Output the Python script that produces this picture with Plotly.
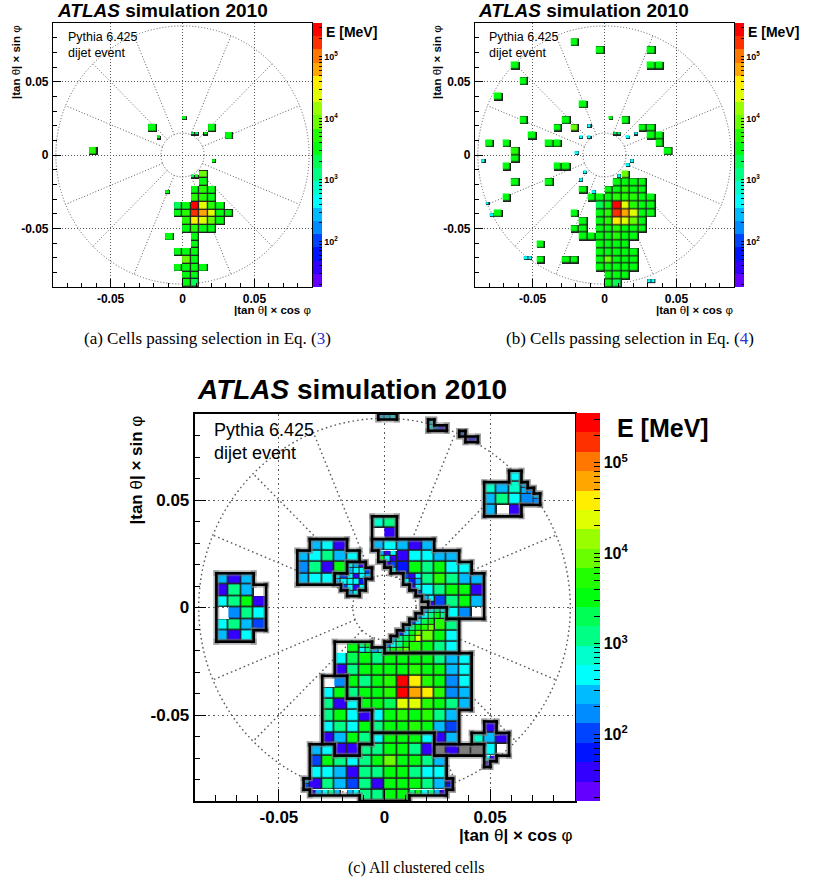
import math
import colorsys
import plotly.graph_objects as go

FIG_W, FIG_H = 832, 884
SANS = "Liberation Sans"
SERIF = "Liberation Serif"

# ---------------------------------------------------------------- geometry
DX, DY = 0.0059, 0.0053          # full cell pitch in |tan(theta)| x / y
AX_RANGE = 0.09
R_INNER, R_OUTER = 0.015, 0.088  # eta boundaries drawn as dotted circles

# ---------------------------------------------------------------- data
# colour-band code of a cell -> cell energy [MeV]
BAND_KEYS = "0123456789abcdefghij"
BAND_MEV = [23, 38, 63, 103, 168, 276, 452, 741, 1210, 1990,
            3260, 5340, 8750, 14300, 23500, 38500, 63000, 103000, 170000, 278000]
Z_MIN, Z_MAX = 1.26, 5.55        # log10(E/MeV) range of the palette axis

# full-size cells: (row j, first column i, band codes); '.' = no cell
A_FULL = [
    (3, -4, "a"), (3, 3, "a"), (2, 5, "a"), (0, -11, "b"),
    (-3, 2, "c"), (-4, 2, "a"), (-5, 1, "aba"), (-6, 1, "bba"),
    (-7, -1, "9ajeba"), (-8, -1, "abigeaa"), (-9, 0, "bfeca"), (-10, 0, "abaa"),
    (-11, -2, "a"), (-11, 1, "a"), (-12, 1, "a"), (-13, -1, "aaa"), (-14, 0, "ca"),
    (-15, -1, "aaaa"), (-16, 0, "aa"), (-17, 0, "a9"),
]
# half-size cells: (half-row k, first half-column m, band codes)
A_HALF = [(9, 0, "a"), (5, 2, "99"), (5, 5, "a"), (4, -6, "a"), (-2, 7, "a"),
          (-6, 2, "9a"), (-10, -4, "a")]

B_FULL = [
    (14, -4, "a"), (13, -1, "a"), (13, 5, "a"), (11, -11, "a"), (11, 5, "aa"),
    (9, -10, "a"), (7, -13, "a"), (6, -3, "a"),
    (4, -10, "a"), (4, -5, "a"), (4, 2, "a"),
    (3, -6, "a.c"), (3, 4, "aa"),
    (2, -9, "a"), (2, 5, "aa"),
    (1, -14, "a.a"), (1, -7, "aa"), (1, 6, "a"),
    (0, -11, "b"), (0, 7, "a"),
    (-1, -11, "a"),
    (-2, -12, "a"), (-2, -6, "aa"),
    (-3, 2, "c"),
    (-4, -11, "a"), (-4, -7, "a"), (-4, 1, "aaaa"),
    (-5, -3, "a"), (-5, 0, "aabaa"),
    (-6, -12, "a"), (-6, -2, "aaabbbaa"),
    (-7, -1, "9ajebaa"),
    (-8, -13, "a"), (-8, -4, "a"), (-8, -1, "abigeaa"),
    (-9, -3, "a.abfeca"),
    (-10, -4, "aa.aabaaa"),
    (-11, -3, "aaaabaa"),
    (-12, -8, "a"), (-12, -1, "aaaa"),
    (-13, -1, "aaaaa"),
    (-14, -8, "a"), (-14, -5, "aa"), (-14, -1, "acaaa"),
    (-15, -1, "aaaaa"),
    (-16, 0, "aaa"),
    (-17, 0, "a9"),
]
B_HALF = [(-2, -29, "6"), (-13, -28, "6"), (-16, -27, "6"), (-27, -19, "66"),
          (7, -4, "6"), (4, -6, "6.6"), (0, -7, "6"), (-5, -5, "6"), (-7, -6, "6"),
          (-10, -3, "6"), (-6, 3, "6"), (-3, 5, "6"), (-2, 6, "6"), (4, 5, "6"),
          (5, 7, "6"), (9, 1, "a"), (5, 2, "99"), (-33, 10, "66")]

# clustered cells: (row j, first column i, band codes, cluster); '-' = cell
# in a cluster with negative energy, '#' = cell shown in grey
C_FULL = [
    (11, 10, "6", "R"), (10, 8, "757", "R"), (9, 8, "5864", "R"), (8, 8, "5-1", "R"),
    (7, -1, "78", "V"), (6, -1, "-1", "V"),
    (5, -6, "561", "W"), (5, -1, "56515", "U"),
    (4, -7, "56856", "W"), (4, 1, "16655", "U"),
    (3, -7, "481a", "W"), (3, 1, "2a8a66", "U"),
    (2, -7, "566", "W"), (2, 3, "8b855", "U"),
    (1, 3, "68aa1", "U"), (0, 4, "38a5", "U"), (-1, 5, "64-", "U"),
    (-2, 4, "b8", "A"), (-3, 3, "ca6", "A"), (-4, 2, "ba86", "A"),
    (-4, -4, "-a", "M"),
    (-5, -4, "69a8aaaa856", "M"),
    (-6, -4, "18aaaabaa56", "M"),
    (-7, -5, "-4", "N"), (-7, -3, "a8abjfba46", "M"),
    (-8, -5, "6a", "N"), (-8, -3, "8aabjgfb45", "M"),
    (-9, -5, "816", "N"), (-9, -2, "aa9eeba85", "M"),
    (-10, -5, "8a61", "N"), (-10, -1, "6abab85", "M"),
    (-11, -5, "686a", "N"), (-11, -1, "8aaba53", "M"), (-11, 8, "1", "K"),
    (-12, -5, "15a8", "N"), (-12, -1, "6aaa6", "B"), (-12, 4, "15", "M"), (-12, 7, "751", "K"),
    (-13, -6, "56", "B"), (-13, -4, "11", "N"), (-13, -2, "88aa81", "B"),
    (-13, 4, "#1##", "G"), (-13, 8, "6-", "K"),
    (-14, -6, "3a868acaa85", "B"),
    (-15, -6, "665188aa866", "B"),
    (-16, -6, "185381aaa85", "B"),
    (-17, -2, "88aa", "B"),
]
# clustered half-size cells: (half-row k, first half-column m, codes, cluster)
C_HALF = [
    (33, -1, "556", "T"),
    (32, 7, "6", "P"), (31, 7, "631", "P"),
    (30, 12, "3", "Q"), (29, 13, "12", "Q"),
    (21, 22, "5", "R"), (20, 22, "54", "R"), (19, 24, "5", "R"), (18, 24, "4", "R"),
    (9, -1, "516", "U"), (8, -1, "a61", "U"), (7, 0, "13", "U"), (6, 1, "6", "U"),
    (5, 3, "316", "U"), (4, 3, "625", "U"), (3, 4, "16", "U"), (2, 5, "3", "U"),
    (1, 6, "56", "U"), (0, 7, "1", "U"),
    (7, -6, "651", "S"), (6, -6, "5663", "S"), (5, -8, "636165", "S"),
    (4, -8, "56662", "S"), (3, -7, "3616", "S"), (2, -6, "56", "S"),
    (-1, 6, "5686", "A"), (-2, 5, "468a8", "A"), (-3, 4, "369a", "A"),
    (-4, 3, "58abc", "A"), (-5, 2, "26ac", "A"), (-6, 1, "589be", "A"),
    (-7, 0, "468a", "A"), (-8, 0, "8abc", "A"),
    (-7, -4, "8a", "M"), (-8, -4, "6856", "M"),
    (-27, 16, "61", "K"), (-28, 16, "1", "K"),
    (-31, -13, "5", "B"), (-32, -13, "3", "B"), (-33, -12, "15685-56", "B"),
    (-33, 4, "8a6851", "B"), (-31, 10, "1", "B"), (-32, 10, "2", "B"),
]
# cluster on a grid shifted by half a cell: (row j, left half-column m, codes)
C_SHIFTED = [(2, -27, "515"), (1, -27, "185-"), (0, -27, "68a1"),
             (-1, -27, "-486"), (-2, -27, "6853"), (-3, -27, "516")]
C_SHIFTED_CLUSTER = "L"

# ---------------------------------------------------------------- helpers
GRID_COL = "#5a5a5a"
EDGE_COL = "#202020"
GREY_CELL = "#7d7d7d"


def root_palette():
    """20 contour levels of the violet->red 'pretty' palette."""
    scale = []
    for b in range(20):
        idx = int((b + 0.99) * 50 / 20)
        hue = max(280 - (idx + 1) * 5.6, 0)
        r, g, bl = colorsys.hls_to_rgb(hue / 360.0, 0.5, 1.0)
        col = f"rgb({round(r*255)},{round(g*255)},{round(bl*255)})"
        scale.append([b / 20, col])
        scale.append([(b + 1) / 20, col])
    return scale


def full_cells(runs):
    out = []
    for run in runs:
        j, i0, codes = run[0], run[1], run[2]
        cl = run[3] if len(run) > 3 else None
        for c, ch in enumerate(codes):
            if ch != ".":
                out.append((2 * (i0 + c), 2 * j, 2, ch, cl))
    return out


def half_cells(runs):
    out = []
    for run in runs:
        k, m0, codes = run[0], run[1], run[2]
        cl = run[3] if len(run) > 3 else None
        for c, ch in enumerate(codes):
            if ch != ".":
                out.append((m0 + c, k, 1, ch, cl))
    return out


def shifted_cells(runs, cl):
    out = []
    for j, m0, codes in runs:
        for c, ch in enumerate(codes):
            if ch != ".":
                out.append((m0 + 2 * c, 2 * j, 2, ch, cl))
    return out


def cell_traces(cells, xa, ya, cax, gap_full, gap_half):
    groups = {}
    for m, k, s, ch, cl in cells:
        groups.setdefault((s, m % s, k % s), []).append((m, k, ch))
    traces = []
    for (s, _, _), items in groups.items():
        m_lo = min(t[0] for t in items)
        m_hi = max(t[0] for t in items)
        k_lo = min(t[1] for t in items)
        k_hi = max(t[1] for t in items)
        nc = (m_hi - m_lo) // s + 1
        nr = (k_hi - k_lo) // s + 1
        zc = [[None] * nc for _ in range(nr)]
        zb = [[None] * nc for _ in range(nr)]
        zg = [[None] * nc for _ in range(nr)]
        for m, k, ch in items:
            c, r = (m - m_lo) // s, (k - k_lo) // s
            if ch in BAND_KEYS:
                zc[r][c] = math.log10(BAND_MEV[BAND_KEYS.index(ch)])
                zb[r][c] = 1
            elif ch == "#":
                zg[r][c] = 1
                zb[r][c] = 1
        gap = gap_full if s == 2 else gap_half
        common = dict(x0=(m_lo + s / 2) * DX / 2, dx=s * DX / 2,
                      y0=(k_lo + s / 2) * DY / 2, dy=s * DY / 2,
                      xaxis=xa, yaxis=ya, hoverinfo="skip")
        traces.append(go.Heatmap(z=zb, colorscale=[[0, EDGE_COL], [1, EDGE_COL]],
                                 zmin=0, zmax=1, showscale=False, **common))
        traces.append(go.Heatmap(z=zg, colorscale=[[0, GREY_CELL], [1, GREY_CELL]],
                                 zmin=0, zmax=1, showscale=False, xgap=gap, ygap=gap, **common))
        traces.append(go.Heatmap(z=zc, coloraxis=cax, xgap=gap, ygap=gap, **common))
    return traces


def outline_traces(cells, xa, ya, ppu_x, ppu_y):
    occ = {}
    for m, k, s, ch, cl in cells:
        for a in range(s):
            for b in range(s):
                occ[(m + a, k + b)] = cl
    hor, ver = set(), set()
    for (m, k), cl in occ.items():
        if occ.get((m, k + 1)) != cl:
            hor.add((k + 1, m))
        if occ.get((m, k - 1)) != cl:
            hor.add((k, m))
        if occ.get((m - 1, k)) != cl:
            ver.add((m, k))
        if occ.get((m + 1, k)) != cl:
            ver.add((m + 1, k))

    def runs(edges):
        by = {}
        for pos, p in edges:
            by.setdefault(pos, []).append(p)
        out = []
        for pos, ps in by.items():
            ps.sort()
            start = prev = ps[0]
            for p in ps[1:]:
                if p == prev + 1:
                    prev = p
                    continue
                out.append((pos, start, prev + 1))
                start = prev = p
            out.append((pos, start, prev + 1))
        return out

    hruns, vruns = runs(hor), runs(ver)
    traces = []
    for width, color in ((6.0, "rgba(120,120,120,0.5)"), (2.6, "black")):
        ex, ey = width / 2 / ppu_x, width / 2 / ppu_y
        xs, ys = [], []
        for kk, m0, m1 in hruns:
            y = kk * DY / 2
            xs += [m0 * DX / 2 - ex, m1 * DX / 2 + ex, None]
            ys += [y, y, None]
        for mm, k0, k1 in vruns:
            x = mm * DX / 2
            xs += [x, x, None]
            ys += [k0 * DY / 2 - ey, k1 * DY / 2 + ey, None]
        traces.append(go.Scatter(x=xs, y=ys, mode="lines", xaxis=xa, yaxis=ya,
                                 line=dict(color=color, width=width),
                                 hoverinfo="skip", showlegend=False))
    return traces


def polar_shapes(xref, yref, width, dash):
    line = dict(color=GRID_COL, width=width, dash=dash)
    shapes = []
    for r in (R_INNER, R_OUTER):
        shapes.append(dict(type="circle", xref=xref, yref=yref, x0=-r, x1=r,
                           y0=-r, y1=r, line=line, layer="below"))
    for n in range(16):
        if n % 4 == 0:
            continue
        a = math.radians(22.5 * n)
        shapes.append(dict(type="line", xref=xref, yref=yref,
                           x0=R_INNER * math.cos(a), y0=R_INNER * math.sin(a),
                           x1=R_OUTER * math.cos(a), y1=R_OUTER * math.sin(a),
                           line=line, layer="below"))
    return shapes


def axis(p0, p1, anchor, fs, major, minor, lw, dash, standoff, vertical=False):
    if vertical:
        dom = [1 - p1 / FIG_H, 1 - p0 / FIG_H]
    else:
        dom = [p0 / FIG_W, p1 / FIG_W]
    return dict(domain=dom, anchor=anchor, range=[-AX_RANGE, AX_RANGE],
                tickmode="array", tickvals=[-0.05, 0, 0.05], ticktext=["-0.05", "0", "0.05"],
                ticks="inside", ticklen=major, tickwidth=1, tickcolor="black",
                minor=dict(tickmode="linear", tick0=0, dtick=0.01, ticks="inside",
                           ticklen=minor, tickwidth=1, tickcolor="black", showgrid=False),
                showline=True, linecolor="black", linewidth=lw, mirror=True,
                showgrid=True, gridcolor=GRID_COL, griddash=dash, gridwidth=1,
                zeroline=False, ticklabelstandoff=standoff, fixedrange=True,
                tickfont=dict(family=SANS, size=fs, color="black", weight="bold"))


def colorbar(x_px, top_px, len_px, thick, fs, tlen):
    vals, text = [], []
    for dec in range(1, 6):
        for mant in range(1, 10):
            v = math.log10(mant * 10 ** dec)
            if Z_MIN <= v <= Z_MAX:
                vals.append(v)
                text.append(f"10<sup>{dec}</sup>" if mant == 1 else "")
    return dict(x=x_px / FIG_W, xanchor="left", y=1 - top_px / FIG_H, yanchor="top",
                len=len_px, lenmode="pixels", thickness=thick, thicknessmode="pixels",
                outlinewidth=0, xpad=0, ypad=0, tickmode="array", tickvals=vals,
                ticktext=text, ticks="inside", ticklen=tlen, tickwidth=1,
                tickcolor="black",
                tickfont=dict(family=SANS, size=fs, color="black", weight="bold"))


def ann(text, x, y, size, xanchor="left", yanchor="middle", family=SANS, angle=0):
    return dict(text=text, x=x / FIG_W, y=1 - y / FIG_H, xref="paper", yref="paper",
                xanchor=xanchor, yanchor=yanchor, showarrow=False, align="left",
                textangle=angle, font=dict(family=family, size=size, color="black"))


# ---------------------------------------------------------------- panels
# pixel frames of the three plots: (left, right, top, bottom)
FR_A = (53, 312, 23, 287)
FR_B = (475, 734, 23, 287)
FR_C = (194.5, 574.5, 414, 801)

traces = []
traces += cell_traces(full_cells(A_FULL) + half_cells(A_HALF), "x", "y", "coloraxis", 1.3, 1.0)
traces += cell_traces(full_cells(B_FULL) + half_cells(B_HALF), "x2", "y2", "coloraxis2", 1.3, 1.0)
c_cells = full_cells(C_FULL) + half_cells(C_HALF) + shifted_cells(C_SHIFTED, C_SHIFTED_CLUSTER)
traces += cell_traces(c_cells, "x3", "y3", "coloraxis3", 1.6, 1.0)
ppu_x = (FR_C[1] - FR_C[0]) / (2 * AX_RANGE)
ppu_y = (FR_C[3] - FR_C[2]) / (2 * AX_RANGE)
traces += outline_traces(c_cells, "x3", "y3", ppu_x, ppu_y)

fig = go.Figure(data=traces)

DOT_S = "1px,2px"
DOT_L = "1.6px,3px"
pal = root_palette()
cax_common = dict(colorscale=pal, cmin=Z_MIN, cmax=Z_MAX)

shapes = (polar_shapes("x", "y", 1, DOT_S) + polar_shapes("x2", "y2", 1, DOT_S)
          + polar_shapes("x3", "y3", 1.4, DOT_L))

AX_LBL_X = "<b>|tan </b>θ<b>| × cos </b>φ"
AX_LBL_Y = "<b>|tan </b>θ<b>| × sin </b>φ"
TITLE = "<b><i>ATLAS</i> simulation 2010</b>"
GEN = "Pythia 6.425<br>dijet event"
REF_BLUE = "#3030d0"

annotations = [
    ann(TITLE, 55, 11, 19), ann(TITLE, 476, 11, 19), ann(TITLE, 195, 389, 28),
    ann("<b>E [MeV]</b>", 351, 32, 14, xanchor="center"),
    ann("<b>E [MeV]</b>", 773, 32, 14, xanchor="center"),
    ann("<b>E [MeV]</b>", 663, 428, 25, xanchor="center"),
    ann(GEN, 66, 28, 12.5, yanchor="top"), ann(GEN, 487, 28, 12.5, yanchor="top"),
    ann(GEN, 212, 418, 18, yanchor="top"),
    ann(AX_LBL_X, 313, 310, 11.5, xanchor="right"),
    ann(AX_LBL_X, 735, 310, 11.5, xanchor="right"),
    ann(AX_LBL_X, 574.5, 835, 17, xanchor="right"),
    ann(AX_LBL_Y, 16, 23, 11.5, xanchor="center", yanchor="top", angle=-90),
    ann(AX_LBL_Y, 437, 23, 11.5, xanchor="center", yanchor="top", angle=-90),
    ann(AX_LBL_Y, 136, 414, 17, xanchor="center", yanchor="top", angle=-90),
    ann(f"(a) Cells passing selection in Eq. (<span style='color:{REF_BLUE}'>3</span>)",
        207, 338, 17, xanchor="center", family=SERIF),
    ann(f"(b) Cells passing selection in Eq. (<span style='color:{REF_BLUE}'>4</span>)",
        630, 338, 17, xanchor="center", family=SERIF),
    ann("(c) All clustered cells", 416, 868, 16, xanchor="center", family=SERIF),
]

fig.update_layout(
    width=FIG_W, height=FIG_H, margin=dict(l=0, r=0, t=0, b=0),
    paper_bgcolor="white", plot_bgcolor="white", showlegend=False,
    xaxis=axis(FR_A[0], FR_A[1], "y", 12, 8, 4, 1.2, DOT_S, 0),
    yaxis=axis(FR_A[2], FR_A[3], "x", 12, 8, 4, 1.2, DOT_S, 1, vertical=True),
    xaxis2=axis(FR_B[0], FR_B[1], "y2", 12, 8, 4, 1.2, DOT_S, 0),
    yaxis2=axis(FR_B[2], FR_B[3], "x2", 12, 8, 4, 1.2, DOT_S, 1, vertical=True),
    xaxis3=axis(FR_C[0], FR_C[1], "y3", 17, 12, 6, 1.6, DOT_L, 0),
    yaxis3=axis(FR_C[2], FR_C[3], "x3", 17, 12, 6, 1.6, DOT_L, 0, vertical=True),
    coloraxis=dict(**cax_common, colorbar=colorbar(313, 23, 264, 9, 9, 3)),
    coloraxis2=dict(**cax_common, colorbar=colorbar(735, 23, 264, 9, 9, 3)),
    coloraxis3=dict(**cax_common, colorbar=colorbar(576, 413, 388, 24, 16, 6)),
    shapes=shapes,
    annotations=annotations,
)

fig.write_html("out.html")
